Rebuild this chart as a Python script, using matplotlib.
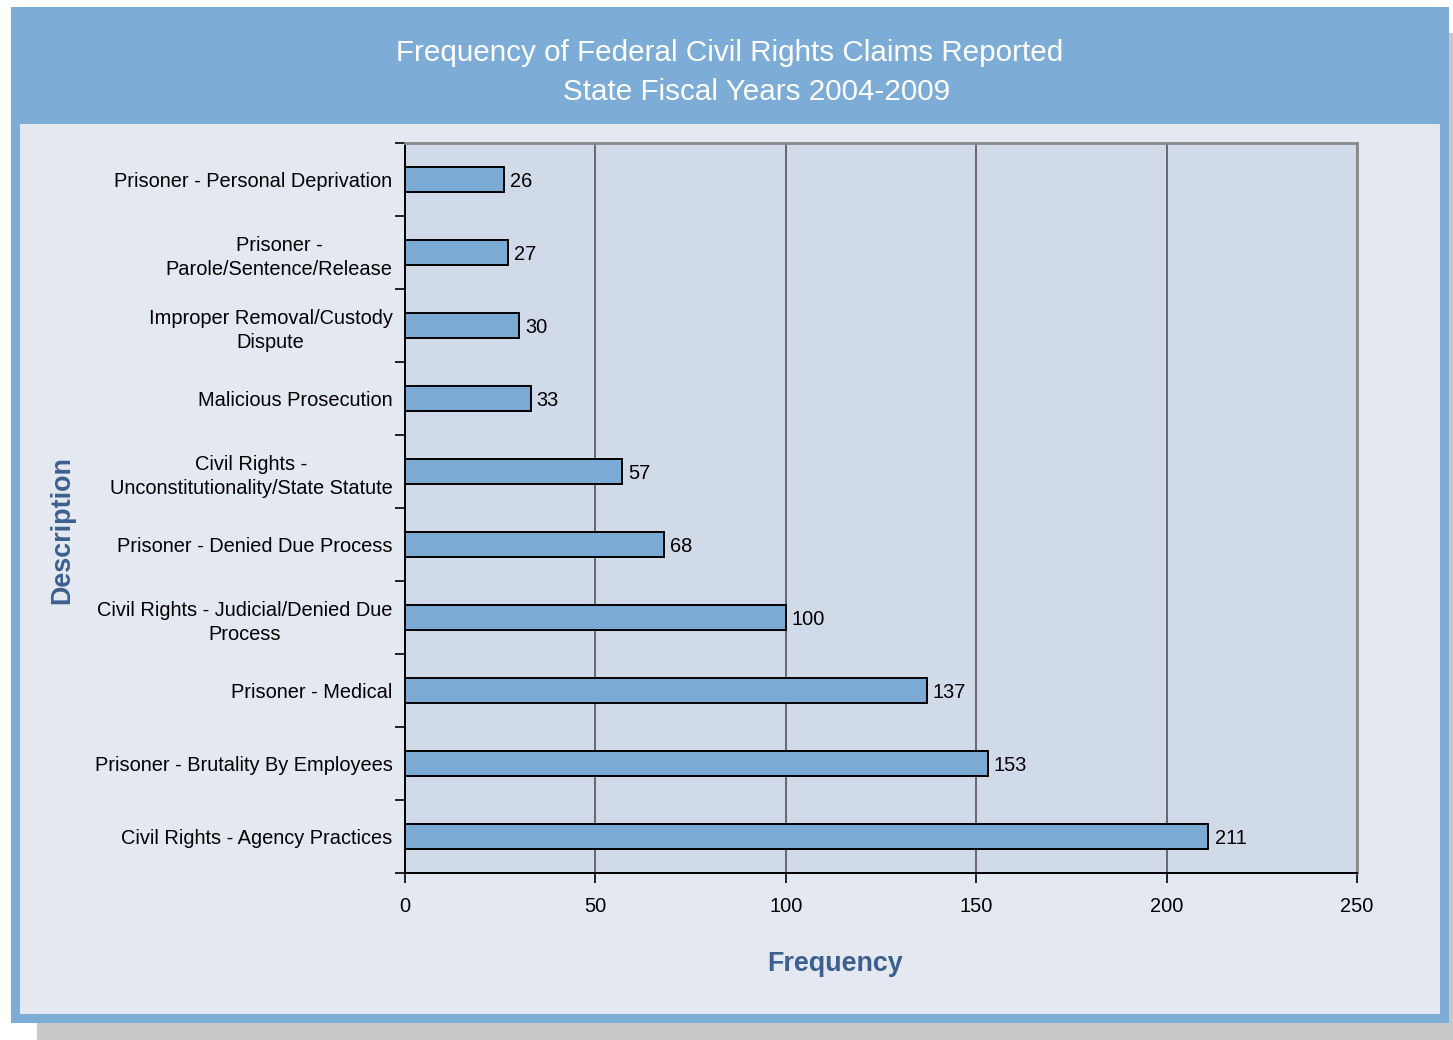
import matplotlib
matplotlib.use("Agg")
import matplotlib.pyplot as plt
from matplotlib.patches import Rectangle

plt.rcParams['font.family'] = ['Liberation Sans', 'DejaVu Sans']

categories = [
    "Prisoner - Personal Deprivation",
    "Prisoner -\nParole/Sentence/Release",
    "Improper Removal/Custody\nDispute",
    "Malicious Prosecution",
    "Civil Rights -\nUnconstitutionality/State Statute",
    "Prisoner - Denied Due Process",
    "Civil Rights - Judicial/Denied Due\nProcess",
    "Prisoner - Medical",
    "Prisoner - Brutality By Employees",
    "Civil Rights - Agency Practices",
]
frequency = [26, 27, 30, 33, 57, 68, 100, 137, 153, 211]
x_ticks = [0, 50, 100, 150, 200, 250]

W, H = 1453, 1040
fig = plt.figure(figsize=(W / 100, H / 100), dpi=100)
fig.patch.set_facecolor("white")


def px_rect(x0, y0, x1, y1, color, z):
    # rectangle given in pixel coords measured from the top-left corner
    fig.patches.append(Rectangle((x0 / W, 1 - y1 / H), (x1 - x0) / W, (y1 - y0) / H,
                                 transform=fig.transFigure, facecolor=color,
                                 edgecolor="none", zorder=z))


# drop shadow, blue frame, light inner panel
px_rect(37, 33, 1453, 1040, "#c8c8c8", -3)
px_rect(11, 7, 1449, 1023, "#7dadd6", -2)
px_rect(20, 124, 1440, 1014, "#e4e8f1", -1)

title_color = "white"
fig.text(730 / W, 1 - 53 / H, "Frequency of Federal Civil Rights Claims Reported",
         ha="center", va="center", color=title_color, fontsize=21.3)
fig.text(757 / W, 1 - 92 / H, "State Fiscal Years 2004-2009",
         ha="center", va="center", color=title_color, fontsize=21.3)

ax = fig.add_axes([405 / W, 1 - 873 / H, (1357 - 405) / W, (873 - 143) / H])
ax.set_facecolor("#d1dae8")

ypos = list(range(len(categories)))
ax.barh(ypos, frequency, height=0.34, color="#7baad4",
        edgecolor="black", linewidth=1.4, zorder=3)
for y, v in zip(ypos, frequency):
    ax.text(v + 1.6, y, str(v), va="center_baseline", ha="left", fontsize=14.4,
            color="black")

ax.set_xlim(0, 250)
ax.set_ylim(len(categories) - 0.5, -0.5)
ax.set_xticks(x_ticks)
ax.set_xticklabels([str(t) for t in x_ticks], fontsize=14.4)
ax.set_yticks(ypos)
ax.set_yticklabels(categories, fontsize=14.4, ha="right", multialignment="center",
                   linespacing=1.35)
ax.set_yticks([i - 0.5 for i in range(len(categories) + 1)], minor=True)
ax.tick_params(axis="y", which="major", length=0, pad=9)
ax.tick_params(axis="y", which="minor", length=7, width=1.2, direction="out", color="black")
ax.tick_params(axis="x", length=7, width=1.2, direction="out", color="black", pad=10)

ax.grid(axis="x", color="#4a4a4a", linewidth=1.1, zorder=1)
ax.set_axisbelow(True)
for s in ("left", "bottom"):
    ax.spines[s].set_color("black")
    ax.spines[s].set_linewidth(1.4)
for s in ("top", "right"):
    ax.spines[s].set_color("#8a8a8a")
    ax.spines[s].set_linewidth(2)

label_color = "#3d5f8f"
fig.text(835 / W, 1 - 964 / H, "Frequency", ha="center", va="center",
         fontsize=19.4, fontweight="bold", color=label_color)
fig.text(62 / W, 1 - 530 / H, "Description", ha="center", va="center", rotation=90,
         fontsize=19.4, fontweight="bold", color=label_color)

fig.savefig("out.png", dpi=100)
